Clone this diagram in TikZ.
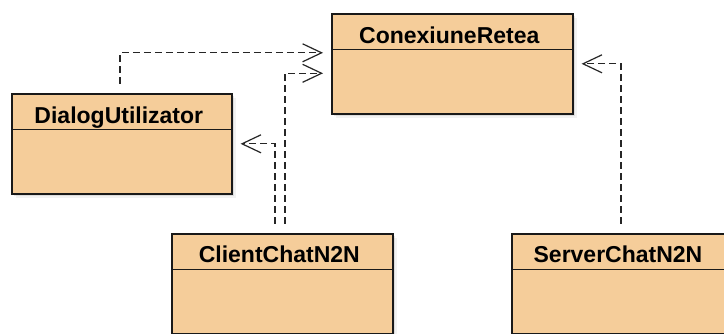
\documentclass[tikz,border=0pt]{standalone}
\usepackage{fontspec}
\setmainfont{Liberation Sans}
\usetikzlibrary{arrows.meta,shadows}
\definecolor{classfill}{RGB}{245,205,154}
\tikzset{
  classbox/.style={draw=black!90, line width=1.6pt, fill=classfill,
    minimum width=#1, minimum height=100pt, anchor=north west, inner sep=0pt,
    drop shadow={shadow xshift=2.5pt, shadow yshift=-2.5pt, opacity=.18},
    drop shadow={shadow xshift=4.5pt, shadow yshift=-4.5pt, opacity=.10}},
  divider/.style={draw=black!90, line width=1.3pt},
  classtitle/.style={font=\bfseries\fontsize{23}{23}\selectfont, anchor=base, inner sep=0pt},
  dep/.style={draw=black!85, line width=1.2pt, dash pattern=on 7pt off 4pt,
    shorten <=9pt, shorten >=8pt,
    -{Straight Barb[length=19pt,width=18pt,line width=1.2pt]}}
}
\begin{document}
\begin{tikzpicture}[x=1pt,y=-1pt]
  \fill[white] (0,0) rectangle (724,334);
  \useasboundingbox (0,0) rectangle (724,334);
  \clip (0,0) rectangle (724,334);

  % class boxes
  \node[classbox=241pt] (cr)  at (331,13)  {};
  \node[classbox=220pt] (dlg) at (11,93)   {};
  \node[classbox=221pt] (cli) at (171,233) {};
  \node[classbox=221pt] (srv) at (511,233) {};

  % name compartments
  \foreach \b in {cr,dlg,cli,srv}
    \draw[divider] ([yshift=-36.5pt]\b.north west) -- ([yshift=-36.5pt]\b.north east);

  % class names
  \node[classtitle] (crt)  at ([xshift=-3pt,yshift=-31pt]cr.north)  {ConexiuneRetea};
  \node[classtitle] (dlgt) at ([xshift=-3pt,yshift=-31pt]dlg.north) {DialogUtilizator};
  \node[classtitle] (clit) at ([xshift=-3pt,yshift=-30pt]cli.north) {ClientChatN2N};
  \node[classtitle] (srvt) at ([xshift=107pt,yshift=-30pt]srv.north west) {ServerChatN2N};

  % dependencies
  \draw[dep] ([xshift=109pt]dlg.north west) |- ([yshift=11pt]cr.west);
  \draw[dep] ([xshift=114pt]cli.north west) |- ([yshift=-9.5pt]cr.west);
  \draw[dep] ([xshift=104pt]cli.north west) |- (dlg.east);
  \draw[dep] ([xshift=110pt]srv.north west) |- (cr.east);
\end{tikzpicture}
\end{document}
